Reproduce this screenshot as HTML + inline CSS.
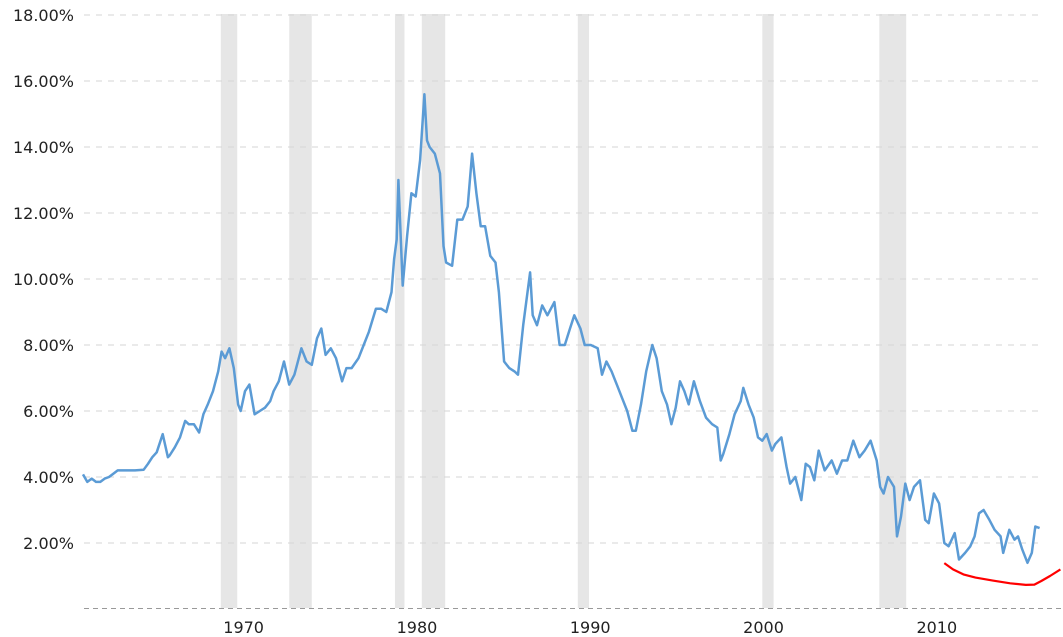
<!DOCTYPE html>
<html><head><meta charset="utf-8"><style>
html,body{margin:0;padding:0;background:#fff;}
svg{display:block;font-family:Tahoma,"DejaVu Sans","Liberation Sans",sans-serif;}
</style></head><body>
<svg id="chart" width="1063" height="637" viewBox="0 0 1063 637" xmlns="http://www.w3.org/2000/svg">
<g id="bands"></g>
<g id="grid"></g>
<g id="yaxis"></g>
<g id="xaxis"></g>
<g id="series"></g>
</svg>
<script>
const yTicks = [2,4,6,8,10,12,14,16,18];
const xTicks = [1970,1980,1990,2000,2010];
const recessionStart = [1969.95,1973.9,1980.0,1981.55,1990.55,2001.2,2007.95];
const recessionEnd   = [1970.9,1975.2,1980.55,1982.9,1991.2,2001.85,2009.5];
const dates = [
1962.0,1962.25,1962.5,1962.75,1963.0,1963.25,1963.5,1963.75,1964.0,1964.5,1965.0,1965.5,1965.75,
1966.0,1966.25,1966.6,1966.9,1967.0,1967.3,1967.6,1967.9,1968.1,1968.4,1968.7,1968.95,
1969.2,1969.5,1969.8,1970.0,1970.2,1970.45,1970.7,1970.95,1971.1,1971.35,1971.6,1971.9,
1972.2,1972.5,1972.8,1973.0,1973.3,1973.6,1973.9,1974.2,1974.6,1974.9,1975.2,1975.5,1975.75,
1976.0,1976.3,1976.6,1976.95,1977.2,1977.5,1977.9,1978.2,1978.5,1978.9,1979.2,1979.5,1979.8,1979.95,
1980.1,1980.2,1980.45,1980.7,1980.95,1981.2,1981.45,1981.7,1981.85,1982.0,1982.3,1982.6,1982.8,1982.95,
1983.3,1983.6,1983.9,1984.2,1984.45,1984.7,1984.95,1985.2,1985.5,1985.8,1986.0,1986.3,1986.6,1986.9,
1987.1,1987.4,1987.8,1987.95,1988.2,1988.5,1988.8,1989.2,1989.5,1989.8,1990.1,1990.35,1990.7,1990.95,
1991.3,1991.7,1991.95,1992.2,1992.5,1992.8,1993.1,1993.4,1993.7,1993.9,1994.2,1994.5,1994.85,
1995.1,1995.4,1995.7,1995.95,1996.2,1996.45,1996.7,1996.95,1997.25,1997.6,1997.95,1998.3,1998.6,1998.8,1998.95,
1999.3,1999.6,1999.95,2000.1,2000.4,2000.7,2000.95,2001.2,2001.45,2001.75,2001.95,2002.3,2002.6,2002.8,
2003.1,2003.45,2003.7,2003.95,2004.2,2004.45,2004.8,2005.2,2005.5,2005.8,2006.1,2006.45,2006.8,
2007.1,2007.45,2007.8,2008.0,2008.2,2008.45,2008.8,2008.97,2009.2,2009.45,2009.7,2009.95,
2010.3,2010.6,2010.8,2011.1,2011.4,2011.7,2011.95,2012.3,2012.55,2012.9,2013.2,2013.45,2013.7,2013.97,
2014.3,2014.6,2014.95,2015.1,2015.45,2015.75,2015.95,2016.2,2016.5,2016.75,2016.95,2017.2
];
const yields = [
4.08,3.85,3.95,3.85,3.85,3.95,4.0,4.1,4.2,4.2,4.2,4.22,4.4,
4.6,4.75,5.3,4.6,4.65,4.9,5.2,5.7,5.6,5.6,5.35,5.9,
6.2,6.6,7.2,7.8,7.6,7.9,7.3,6.2,6.0,6.6,6.8,5.9,
6.0,6.1,6.3,6.6,6.9,7.5,6.8,7.1,7.9,7.5,7.4,8.2,8.5,
7.7,7.9,7.6,6.9,7.3,7.3,7.6,8.0,8.4,9.1,9.1,9.0,9.6,10.6,
11.2,13.0,9.8,11.3,12.6,12.5,13.6,15.6,14.2,14.0,13.8,13.2,11.0,10.5,
10.4,11.8,11.8,12.2,13.8,12.6,11.6,11.6,10.7,10.5,9.6,7.5,7.3,7.2,
7.1,8.6,10.2,8.9,8.6,9.2,8.9,9.3,8.0,8.0,8.5,8.9,8.5,8.0,
8.0,7.9,7.1,7.5,7.2,6.8,6.4,6.0,5.4,5.4,6.2,7.2,8.0,
7.6,6.6,6.2,5.6,6.1,6.9,6.6,6.2,6.9,6.3,5.8,5.6,5.5,4.5,4.7,
5.3,5.9,6.3,6.7,6.2,5.8,5.2,5.1,5.3,4.8,5.0,5.2,4.3,3.8,
4.0,3.3,4.4,4.3,3.9,4.8,4.2,4.5,4.1,4.5,4.5,5.1,4.6,
4.8,5.1,4.5,3.7,3.5,4.0,3.7,2.2,2.8,3.8,3.3,3.7,
3.9,2.7,2.6,3.5,3.2,2.0,1.9,2.3,1.5,1.7,1.9,2.2,2.9,3.0,
2.7,2.4,2.2,1.7,2.4,2.1,2.2,1.8,1.4,1.7,2.5,2.45
];
const redDates = [2011.7,2012.2,2012.8,2013.5,2014.5,2015.5,2016.4,2016.9,2017.3,2017.8,2018.4];
const redValues = [1.39,1.2,1.05,0.95,0.86,0.78,0.73,0.74,0.85,1.0,1.2];

const NS='http://www.w3.org/2000/svg';
const X0=83, YEAR0=1962, PXY=17.33;
function xs(t){return X0+(t-YEAR0)*PXY;}
function ys(v){return 609-v*33;}
function mk(tag,attrs,parent){const e=document.createElementNS(NS,tag);for(const k in attrs)e.setAttribute(k,attrs[k]);parent.appendChild(e);return e;}
const bands=document.getElementById('bands'),grid=document.getElementById('grid'),ya=document.getElementById('yaxis'),xa=document.getElementById('xaxis'),ser=document.getElementById('series');
recessionStart.forEach((s,i)=>{
  const r=mk('rect',{x:xs(s),y:14,width:xs(recessionEnd[i])-xs(s),height:594,fill:'#e6e6e6'},bands);
  
  
});
yTicks.forEach(v=>{
  const l=mk('line',{x1:84,x2:1040,y1:ys(v),y2:ys(v),stroke:'#d6d6d6','stroke-width':1,'stroke-dasharray':'6,6'},grid);
  
  
  const t=mk('text',{x:74,y:ys(v)+6,'text-anchor':'end','font-size':16,fill:'#222'},ya);
  t.textContent=v.toFixed(2)+'%';
  
  
});
const base=mk('line',{x1:84,x2:1063,y1:608.5,y2:608.5,stroke:'#999','stroke-width':1,'stroke-dasharray':'5,4'},grid);


xTicks.forEach(y=>{
  const t=mk('text',{x:xs(y)+22,y:633,'text-anchor':'middle','font-size':16,fill:'#222'},xa);
  t.textContent=String(y);
  
  
});
const d=dates.map((t,i)=>(i?'L':'M')+xs(t).toFixed(1)+','+ys(yields[i]).toFixed(1)).join('');
const p=mk('path',{d:d,fill:'none',stroke:'#5b9bd5','stroke-width':2.5,'stroke-linejoin':'round'},ser);


const rd=redDates.map((t,i)=>(i?'L':'M')+xs(t).toFixed(1)+','+ys(redValues[i]).toFixed(1)).join('');
const rp=mk('path',{d:rd,fill:'none',stroke:'#ff0000','stroke-width':2.2,'stroke-linejoin':'round'},ser);


</script>
</body></html>
